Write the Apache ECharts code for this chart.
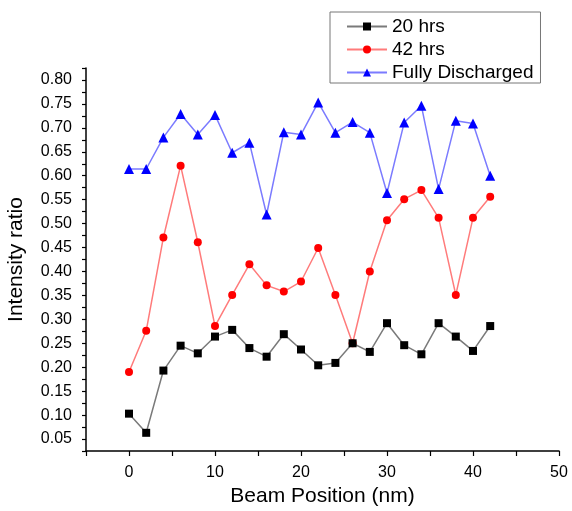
<!DOCTYPE html>
<html>
<head>
<meta charset="utf-8">
<script src="https://cdn.jsdelivr.net/npm/echarts@6/dist/echarts.min.js"></script>
<style>html,body{margin:0;padding:0;background:#fff}#c{width:572px;height:511px}</style>
</head>
<body>
<div id="c"></div>
<script>
const positions = [0,2,4,6,8,10,12,14,16,18,20,22,24,26,28,30,32,34,36,38,40,42];
const seriesNames = ['20 hrs','42 hrs','Fully Discharged'];
const hrs20 = [0.103,0.063,0.193,0.245,0.229,0.264,0.278,0.240,0.222,0.269,0.237,0.204,0.209,0.250,0.232,0.292,0.246,0.227,0.292,0.264,0.234,0.286];
const hrs42 = [0.190,0.276,0.471,0.621,0.461,0.286,0.351,0.415,0.371,0.358,0.379,0.449,0.351,0.250,0.400,0.507,0.551,0.570,0.512,0.351,0.512,0.556];
const fullyDischarged = [0.614,0.614,0.680,0.729,0.686,0.727,0.648,0.669,0.519,0.691,0.686,0.753,0.690,0.712,0.690,0.564,0.711,0.746,0.572,0.715,0.709,0.600];
const xTickLabels = [0,10,20,30,40,50];
const yTickLabels = ['0.05','0.10','0.15','0.20','0.25','0.30','0.35','0.40','0.45','0.50','0.55','0.60','0.65','0.70','0.75','0.80'];

const pair = arr => positions.map((x,i)=>[x,arr[i]]);
const font = 'Liberation Sans, Arial, sans-serif';
const chart = echarts.init(document.getElementById('c'));
chart.setOption({
  animation:false,
  backgroundColor:'#fff',
  grid:{left:86,right:13,top:68,bottom:60,containLabel:false,outerBoundsMode:'none'},
  legend:{
    left:330, top:12,
    orient:'vertical',
    itemWidth:40, itemHeight:10, itemGap:4,
    padding:[5,7,1,16],
    borderColor:'#777', borderWidth:1,
    textStyle:{fontFamily:font,fontSize:19,color:'#000'},
    data:seriesNames
  },
  xAxis:{
    type:'value', min:-5, max:50, interval:5,
    name:'Beam Position (nm)', nameLocation:'middle', nameGap:35,
    nameTextStyle:{fontFamily:font,fontSize:21,color:'#000'},
    axisLine:{onZero:false,lineStyle:{color:'#000',width:1.5}},
    axisTick:{show:true,length:5,inside:false,lineStyle:{color:'#000',width:1.2}},
    axisLabel:{fontFamily:font,fontSize:16,color:'#000',margin:14,
      formatter:v=>{const r=Math.round(v); return xTickLabels.includes(r)&&Math.abs(v-r)<1e-6?String(r):'';}},
    splitLine:{show:false}
  },
  yAxis:{
    type:'value', min:0.025, max:0.825, interval:0.025,
    name:'Intensity ratio', nameLocation:'middle', nameGap:59, nameRotate:90,
    nameTextStyle:{fontFamily:font,fontSize:21,color:'#000'},
    axisLine:{show:true,onZero:false,lineStyle:{color:'#000',width:1.5}},
    axisTick:{show:true,length:4,inside:false,lineStyle:{color:'#000',width:1.2}},
    axisLabel:{fontFamily:font,fontSize:16,color:'#000',margin:14,
      formatter:v=>{const s=v.toFixed(2); const k=Math.round(v*1000); return (k%50===0 && yTickLabels.includes(s))?s:'';}},
    splitLine:{show:false}
  },
  series:[
    {name:seriesNames[0],type:'line',data:pair(hrs20),symbol:'rect',symbolSize:8,
     lineStyle:{color:'#7a7a7a',width:1.5},itemStyle:{color:'#000'},z:3},
    {name:seriesNames[1],type:'line',data:pair(hrs42),symbol:'circle',symbolSize:8,
     lineStyle:{color:'#ff7b7b',width:1.5},itemStyle:{color:'#ff0000'},z:2},
    {name:seriesNames[2],type:'line',data:pair(fullyDischarged),symbol:'triangle',symbolSize:10,
     lineStyle:{color:'#7b7bff',width:1.5},itemStyle:{color:'#0000ff'},z:2}
  ]
});
</script>
</body>
</html>
